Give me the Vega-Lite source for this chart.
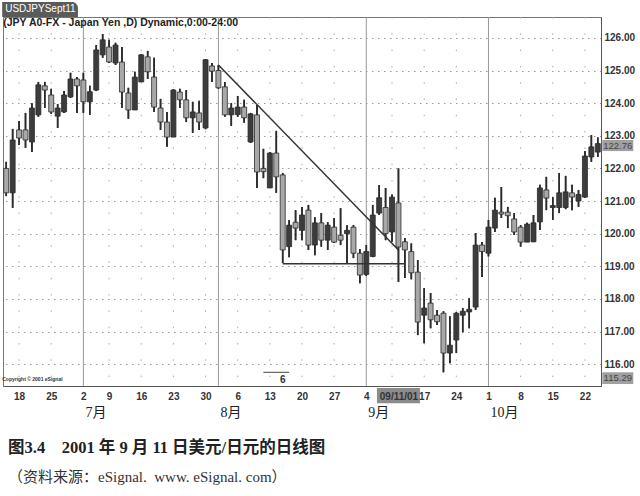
{
  "$schema": "https://vega.github.io/schema/vega-lite/v6.json",
  "width": 598,
  "height": 369,
  "autosize": "none",
  "padding": {"left": 3, "top": 17, "right": 39, "bottom": 110},
  "background": "#ffffff",
  "config": {"view": {"stroke": "#777", "strokeWidth": 1}, "font": "Liberation Sans", "axisY": {"labelOverlap": false}},
  "title": {
    "text": "图3.4\u00a0\u00a0\u00a0\u00a02001\u00a0年\u00a09\u00a0月\u00a011\u00a0日美元/日元的日线图",
    "subtitle": "（资料来源：eSignal.\u00a0\u00a0www.\u00a0eSignal.\u00a0com）",
    "orient": "bottom",
    "anchor": "start",
    "frame": "group",
    "offset": 20,
    "dx": 5,
    "font": "Liberation Serif, Noto Sans CJK SC",
    "fontSize": 16.5,
    "fontWeight": "bold",
    "color": "#222",
    "subtitleFont": "Liberation Serif, Noto Sans CJK SC",
    "subtitleFontSize": 15,
    "subtitleColor": "#333",
    "subtitlePadding": 13
  },
  "datasets": {
    "ohlc": [
      {"d":"2001-06-14","o":122.0,"h":122.2,"l":121.15,"c":121.25},
      {"d":"2001-06-15","o":121.25,"h":123.21,"l":120.79,"c":122.87},
      {"d":"2001-06-18","o":123.18,"h":123.45,"l":122.72,"c":122.93},
      {"d":"2001-06-19","o":123.18,"h":123.7,"l":122.63,"c":122.87},
      {"d":"2001-06-20","o":122.81,"h":124.0,"l":122.5,"c":123.85},
      {"d":"2001-06-21","o":123.64,"h":124.65,"l":123.58,"c":124.56},
      {"d":"2001-06-22","o":124.53,"h":124.65,"l":123.85,"c":124.4},
      {"d":"2001-06-25","o":124.25,"h":124.44,"l":123.67,"c":123.73},
      {"d":"2001-06-26","o":123.6,"h":123.97,"l":123.24,"c":123.85},
      {"d":"2001-06-27","o":123.73,"h":124.37,"l":123.7,"c":124.25},
      {"d":"2001-06-28","o":124.19,"h":124.93,"l":124.16,"c":124.74},
      {"d":"2001-06-29","o":124.74,"h":124.8,"l":123.7,"c":124.53},
      {"d":"2001-07-02","o":124.71,"h":124.93,"l":123.7,"c":124.04},
      {"d":"2001-07-03","o":124.04,"h":124.53,"l":123.64,"c":124.35},
      {"d":"2001-07-05","o":124.4,"h":125.78,"l":124.37,"c":125.63},
      {"d":"2001-07-06","o":125.48,"h":126.12,"l":125.39,"c":125.94},
      {"d":"2001-07-09","o":125.72,"h":125.94,"l":125.23,"c":125.26},
      {"d":"2001-07-10","o":125.23,"h":125.85,"l":125.17,"c":125.78},
      {"d":"2001-07-11","o":125.26,"h":125.72,"l":123.85,"c":124.34},
      {"d":"2001-07-12","o":124.31,"h":124.47,"l":123.52,"c":123.79},
      {"d":"2001-07-13","o":123.79,"h":124.96,"l":123.79,"c":124.8},
      {"d":"2001-07-16","o":124.65,"h":125.5,"l":124.65,"c":125.48},
      {"d":"2001-07-17","o":125.42,"h":125.6,"l":124.74,"c":124.96},
      {"d":"2001-07-18","o":124.8,"h":125.39,"l":123.73,"c":123.88},
      {"d":"2001-07-19","o":123.85,"h":124.13,"l":123.18,"c":123.42},
      {"d":"2001-07-20","o":123.42,"h":123.73,"l":122.66,"c":122.96},
      {"d":"2001-07-23","o":122.96,"h":124.43,"l":122.96,"c":124.4},
      {"d":"2001-07-24","o":124.34,"h":124.44,"l":123.85,"c":124.1},
      {"d":"2001-07-25","o":124.1,"h":124.4,"l":123.42,"c":123.55},
      {"d":"2001-07-26","o":123.55,"h":124.04,"l":123.09,"c":123.73},
      {"d":"2001-07-27","o":123.7,"h":124.07,"l":123.18,"c":123.42},
      {"d":"2001-07-30","o":123.24,"h":125.35,"l":123.2,"c":125.33},
      {"d":"2001-07-31","o":125.14,"h":125.23,"l":124.65,"c":124.98},
      {"d":"2001-08-01","o":125.0,"h":125.17,"l":124.44,"c":124.47},
      {"d":"2001-08-02","o":124.5,"h":124.65,"l":123.58,"c":123.64},
      {"d":"2001-08-03","o":123.64,"h":124.0,"l":123.3,"c":123.85},
      {"d":"2001-08-06","o":123.65,"h":124.22,"l":123.58,"c":123.88},
      {"d":"2001-08-07","o":123.88,"h":124.1,"l":123.4,"c":123.55},
      {"d":"2001-08-08","o":122.81,"h":123.7,"l":122.78,"c":123.67},
      {"d":"2001-08-09","o":123.64,"h":123.94,"l":121.4,"c":121.89},
      {"d":"2001-08-10","o":122.0,"h":122.6,"l":121.7,"c":121.9},
      {"d":"2001-08-13","o":121.4,"h":122.5,"l":121.4,"c":122.47},
      {"d":"2001-08-14","o":122.47,"h":123.15,"l":121.25,"c":121.74},
      {"d":"2001-08-15","o":121.8,"h":121.86,"l":119.1,"c":119.5},
      {"d":"2001-08-16","o":119.6,"h":120.42,"l":119.28,"c":120.26},
      {"d":"2001-08-17","o":120.35,"h":120.72,"l":119.8,"c":120.17},
      {"d":"2001-08-20","o":120.1,"h":120.82,"l":119.8,"c":120.57},
      {"d":"2001-08-21","o":120.72,"h":120.88,"l":119.5,"c":119.65},
      {"d":"2001-08-22","o":119.65,"h":120.5,"l":119.34,"c":120.33},
      {"d":"2001-08-23","o":120.33,"h":120.63,"l":119.6,"c":119.8},
      {"d":"2001-08-24","o":119.8,"h":120.35,"l":119.5,"c":120.26},
      {"d":"2001-08-27","o":120.2,"h":120.48,"l":119.71,"c":119.74},
      {"d":"2001-08-28","o":119.95,"h":120.78,"l":119.65,"c":119.8},
      {"d":"2001-08-29","o":120.0,"h":120.26,"l":119.1,"c":120.1},
      {"d":"2001-08-30","o":120.2,"h":120.26,"l":119.25,"c":119.4},
      {"d":"2001-08-31","o":119.4,"h":119.53,"l":118.48,"c":118.73},
      {"d":"2001-09-04","o":118.75,"h":119.65,"l":118.7,"c":119.45},
      {"d":"2001-09-05","o":119.3,"h":120.88,"l":119.28,"c":120.57},
      {"d":"2001-09-06","o":120.63,"h":121.49,"l":120.57,"c":121.1},
      {"d":"2001-09-07","o":120.8,"h":121.4,"l":119.8,"c":120.0},
      {"d":"2001-09-10","o":120.05,"h":121.2,"l":119.75,"c":121.12},
      {"d":"2001-09-11","o":120.94,"h":122.0,"l":118.52,"c":119.59},
      {"d":"2001-09-12","o":119.75,"h":119.87,"l":118.64,"c":119.5},
      {"d":"2001-09-13","o":119.45,"h":119.7,"l":118.6,"c":118.8},
      {"d":"2001-09-14","o":118.82,"h":119.19,"l":116.89,"c":117.29},
      {"d":"2001-09-17","o":117.5,"h":118.33,"l":116.64,"c":117.72},
      {"d":"2001-09-18","o":117.87,"h":118.18,"l":117.1,"c":117.36},
      {"d":"2001-09-19","o":117.5,"h":117.66,"l":117.2,"c":117.3},
      {"d":"2001-09-20","o":117.56,"h":117.62,"l":115.75,"c":116.34},
      {"d":"2001-09-21","o":116.34,"h":117.47,"l":116.03,"c":116.58},
      {"d":"2001-09-24","o":116.74,"h":117.6,"l":116.34,"c":117.56},
      {"d":"2001-09-25","o":117.5,"h":117.72,"l":116.98,"c":117.62},
      {"d":"2001-09-26","o":117.6,"h":118.02,"l":117.1,"c":117.68},
      {"d":"2001-09-27","o":117.75,"h":120.02,"l":117.66,"c":119.65},
      {"d":"2001-09-28","o":119.65,"h":119.74,"l":118.67,"c":119.45},
      {"d":"2001-10-01","o":119.4,"h":120.42,"l":119.3,"c":120.2},
      {"d":"2001-10-02","o":120.17,"h":121.1,"l":120.05,"c":120.72},
      {"d":"2001-10-03","o":120.66,"h":121.43,"l":120.48,"c":120.6},
      {"d":"2001-10-04","o":120.66,"h":120.82,"l":120.17,"c":120.55},
      {"d":"2001-10-05","o":120.45,"h":120.63,"l":119.96,"c":120.05},
      {"d":"2001-10-08","o":120.2,"h":120.26,"l":119.6,"c":119.74},
      {"d":"2001-10-09","o":119.74,"h":120.33,"l":119.74,"c":120.29},
      {"d":"2001-10-10","o":119.75,"h":120.57,"l":119.74,"c":120.33},
      {"d":"2001-10-11","o":120.36,"h":121.5,"l":120.11,"c":121.4},
      {"d":"2001-10-12","o":121.34,"h":121.74,"l":120.72,"c":121.09},
      {"d":"2001-10-15","o":120.8,"h":121.12,"l":120.42,"c":120.86},
      {"d":"2001-10-16","o":120.8,"h":121.86,"l":120.63,"c":121.25},
      {"d":"2001-10-17","o":120.8,"h":121.77,"l":120.75,"c":121.28},
      {"d":"2001-10-18","o":121.25,"h":121.5,"l":120.72,"c":121.12},
      {"d":"2001-10-19","o":121.0,"h":121.34,"l":120.82,"c":121.2},
      {"d":"2001-10-22","o":121.12,"h":122.53,"l":121.1,"c":122.38},
      {"d":"2001-10-23","o":122.35,"h":123.02,"l":122.2,"c":122.66},
      {"d":"2001-10-24","o":122.5,"h":122.95,"l":122.35,"c":122.76}
    ],
    "months": [
      {"d":"2001-07-02","m":"7月"},
      {"d":"2001-08-01","m":"8月"},
      {"d":"2001-09-04","m":"9月"},
      {"d":"2001-10-01","m":"10月"}
    ],
    "weeks": [
      {"d":"2001-06-18"},{"d":"2001-06-25"},{"d":"2001-07-09"},{"d":"2001-07-16"},
      {"d":"2001-07-23"},{"d":"2001-07-30"},{"d":"2001-08-06"},{"d":"2001-08-13"},
      {"d":"2001-08-20"},{"d":"2001-08-27"},{"d":"2001-09-10"},{"d":"2001-09-17"},
      {"d":"2001-09-24"},{"d":"2001-10-08"},{"d":"2001-10-15"},{"d":"2001-10-22"}
    ],
    "trend": [
      {"d":"2001-08-01","p":125.17},
      {"d":"2001-09-11","p":119.5}
    ],
    "support": [
      {"d":"2001-08-15","d2":"2001-09-12","p":119.08}
    ],
    "notes": [
      {"d":"2001-06-14","p":126.46,"t":"(JPY A0-FX - Japan Yen  ,D) Dynamic,0:00-24:00"}
    ]
  },
  "layer": [
    {
      "data": {"name": "ohlc"},
      "mark": {"type": "rule", "color": "#2b2b2b", "strokeWidth": 1.6},
      "encoding": {
        "x": {
          "field": "d", "type": "ordinal",
          "scale": {"type": "point", "padding": 0.5},
          "axis": {
            "orient": "bottom", "title": null, "ticks": false, "grid": false,
            "labelAngle": 0, "labelOverlap": false, "labelPadding": 5,
            "labelFont": "Liberation Sans", "labelFontSize": 10, "labelFontWeight": "bold",
            "labelColor": "#333", "domainColor": "#555", "zindex": 1,
            "values": ["2001-06-18","2001-06-25","2001-07-02","2001-07-09","2001-07-16","2001-07-23","2001-07-30","2001-08-06","2001-08-13","2001-08-20","2001-08-27","2001-09-04","2001-09-11","2001-09-17","2001-09-24","2001-10-01","2001-10-08","2001-10-15","2001-10-22"],
            "labelExpr": "datum.value == '2001-09-11' ? '09/11/01' : '' + toNumber(slice(datum.value, 8))"
          }
        },
        "y": {
          "field": "l", "type": "quantitative",
          "scale": {"domain": [115.33, 126.64], "nice": false, "zero": false},
          "axis": {
            "orient": "right", "title": null, "ticks": false,
            "values": [116,117,118,119,120,121,122,123,124,125,126],
            "tickCount": 11,
            "format": ".2f", "labelPadding": 3, "labelOverlap": false,
            "labelFont": "Liberation Sans", "labelFontSize": 10, "labelFontWeight": "bold",
            "labelColor": "#333", "domainColor": "#555",
            "grid": true, "gridColor": "#9a9a9a", "gridDash": [1.5, 4.5], "gridWidth": 1
          }
        },
        "y2": {"field": "h"}
      }
    },
    {
      "data": {"name": "weeks"},
      "mark": {"type": "rule", "color": "#aaa", "strokeWidth": 1, "strokeDash": [1.5, 14.8]},
      "encoding": {"x": {"field": "d", "type": "ordinal"}}
    },
    {
      "data": {"name": "months"},
      "mark": {"type": "rule", "color": "#999", "strokeWidth": 1},
      "encoding": {"x": {"field": "d", "type": "ordinal"}}
    },
    {
      "data": {"name": "ohlc"},
      "mark": {"type": "rule", "color": "#2b2b2b", "strokeWidth": 1.6},
      "encoding": {
        "x": {"field": "d", "type": "ordinal"},
        "y": {"field": "l", "type": "quantitative"},
        "y2": {"field": "h"}
      }
    },
    {
      "data": {"name": "ohlc"},
      "mark": {"type": "bar", "width": 5, "stroke": "#2b2b2b", "strokeWidth": 0.8},
      "encoding": {
        "x": {"field": "d", "type": "ordinal"},
        "y": {"field": "o", "type": "quantitative"},
        "y2": {"field": "c"},
        "fill": {"condition": {"test": "datum.c >= datum.o", "value": "#3c3c3c"}, "value": "#a8a8a8"}
      }
    },
    {
      "data": {"name": "trend"},
      "mark": {"type": "line", "color": "#333", "strokeWidth": 1.5},
      "encoding": {
        "x": {"field": "d", "type": "ordinal"},
        "y": {"field": "p", "type": "quantitative"}
      }
    },
    {
      "data": {"name": "support"},
      "mark": {"type": "rule", "color": "#333", "strokeWidth": 1.5},
      "encoding": {
        "x": {"field": "d", "type": "ordinal"},
        "x2": {"field": "d2"},
        "y": {"field": "p", "type": "quantitative"}
      }
    },
    {
      "data": {"name": "notes"},
      "mark": {"type": "text", "align": "left", "baseline": "middle", "dx": -3, "font": "Liberation Sans", "fontSize": 10.5, "fontWeight": "bold", "color": "#222"},
      "encoding": {
        "x": {"field": "d", "type": "ordinal"},
        "y": {"field": "p", "type": "quantitative"},
        "text": {"field": "t"}
      }
    },
    {
      "data": {"values": [{"d":"2001-06-14","d2":"2001-06-29","p":126.64,"p2":127.1}]},
      "mark": {"type": "rect", "color": "#5a5a5a", "xOffset": -4, "x2Offset": 1, "cornerRadiusTopRight": 6},
      "encoding": {
        "x": {"field": "d", "type": "ordinal"},
        "x2": {"field": "d2"},
        "y": {"field": "p", "type": "quantitative"},
        "y2": {"field": "p2"}
      }
    },
    {
      "data": {"values": [{"d":"2001-06-14","p":126.87,"t":"USDJPYSept11"}]},
      "mark": {"type": "text", "align": "left", "baseline": "middle", "dx": -1, "font": "Liberation Sans", "fontSize": 10, "color": "#ffffff"},
      "encoding": {
        "x": {"field": "d", "type": "ordinal"},
        "y": {"field": "p", "type": "quantitative"},
        "text": {"field": "t"}
      }
    },
    {
      "data": {"values": [{"d":"2001-06-14","p":115.55,"t":"Copyright © 2001 eSignal"}]},
      "mark": {"type": "text", "align": "left", "baseline": "middle", "dx": -4, "font": "Liberation Sans", "fontSize": 5, "fontWeight": "bold", "color": "#333"},
      "encoding": {
        "x": {"field": "d", "type": "ordinal"},
        "y": {"field": "p", "type": "quantitative"},
        "text": {"field": "t"}
      }
    },
    {
      "data": {"values": [{"d":"2001-08-10","d2":"2001-08-16","p":115.75}]},
      "mark": {"type": "rule", "color": "#444", "strokeWidth": 1},
      "encoding": {
        "x": {"field": "d", "type": "ordinal"},
        "x2": {"field": "d2"},
        "y": {"field": "p", "type": "quantitative"}
      }
    },
    {
      "data": {"values": [{"d":"2001-08-15","p":115.5,"t":"6"}]},
      "mark": {"type": "text", "align": "center", "baseline": "middle", "font": "Liberation Sans", "fontSize": 10, "fontWeight": "bold", "color": "#333"},
      "encoding": {
        "x": {"field": "d", "type": "ordinal"},
        "y": {"field": "p", "type": "quantitative"},
        "text": {"field": "t"}
      }
    },
    {
      "data": {"values": [{"d":"2001-09-11","p":115.27,"p2":114.8}]},
      "mark": {"type": "bar", "width": 43, "color": "#8c8c8c"},
      "encoding": {
        "x": {"field": "d", "type": "ordinal"},
        "y": {"field": "p", "type": "quantitative"},
        "y2": {"field": "p2"}
      }
    },
    {
      "data": {"values": [{"d":"2001-10-24","p":122.87,"p2":122.53},{"d":"2001-10-24","p":115.75,"p2":115.39}]},
      "mark": {"type": "bar", "width": 31, "xOffset": 20, "color": "#a0a0a0"},
      "encoding": {
        "x": {"field": "d", "type": "ordinal"},
        "y": {"field": "p", "type": "quantitative"},
        "y2": {"field": "p2"}
      }
    },
    {
      "data": {"values": [{"d":"2001-10-24","t":"122.76","tp":122.69},{"d":"2001-10-24","t":"115.29","tp":115.57}]},
      "mark": {"type": "text", "align": "center", "baseline": "middle", "dx": 20, "font": "Liberation Sans", "fontSize": 9.5, "color": "#444"},
      "encoding": {
        "x": {"field": "d", "type": "ordinal"},
        "y": {"field": "tp", "type": "quantitative"},
        "text": {"field": "t"}
      }
    },
    {
      "data": {"name": "months"},
      "mark": {"type": "text", "align": "left", "baseline": "middle", "dx": 2, "font": "Liberation Serif, Noto Sans CJK SC", "fontSize": 14, "color": "#222"},
      "encoding": {
        "x": {"field": "d", "type": "ordinal"},
        "y": {"datum": 114.5, "type": "quantitative"},
        "text": {"field": "m"}
      }
    }
  ]
}
